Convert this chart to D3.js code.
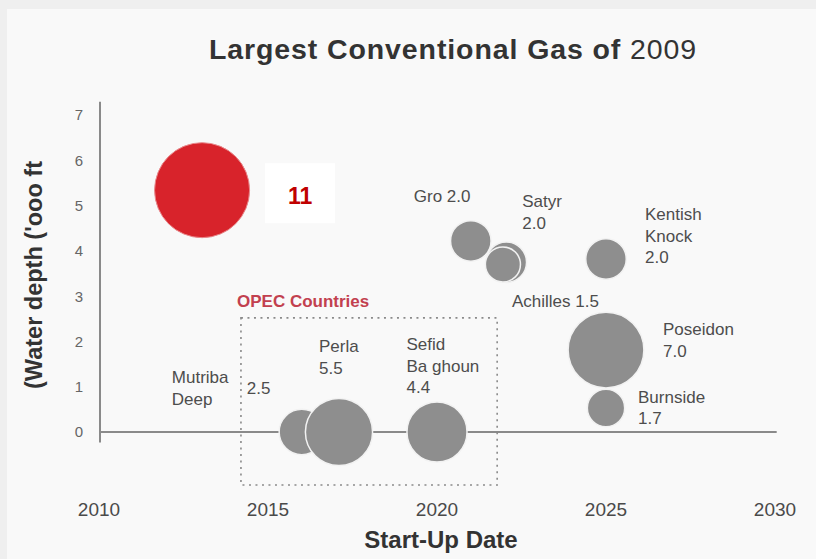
<!DOCTYPE html>
<html>
<head>
<meta charset="utf-8">
<script src="https://cdn.jsdelivr.net/npm/d3@7"></script>
<style>
  html, body { margin: 0; padding: 0; background: #efefef; }
  svg { display: block; font-family: "Liberation Sans", Arial, sans-serif; }
</style>
</head>
<body>
<div id="chart"></div>
<script>
// Gas fields: start-up year, water depth ('000 ft) and reserves (bubble size)
var fieldNames = ["Largest", "Mutriba Deep", "Perla", "Sefid Ba ghoun", "Gro", "Satyr", "Achilles", "Kentish Knock", "Poseidon", "Burnside"];
var startYears = [2013.05, 2016.0, 2017.1, 2020.0, 2021.0, 2022.05, 2021.95, 2025.0, 2025.0, 2025.0];
var waterDepth = [5.34, 0, 0, 0, 4.22, 3.75, 3.7, 3.82, 1.81, 0.53];
var reserves = [11, 2.5, 5.5, 4.4, 2.0, 2.0, 1.5, 2.0, 7.0, 1.7];
var labelLines = [
    ["11"],
    ["Mutriba", "Deep"],
    ["Perla", "5.5"],
    ["Sefid", "Ba ghoun", "4.4"],
    ["Gro 2.0"],
    ["Satyr", "2.0"],
    ["Achilles 1.5"],
    ["Kentish", "Knock", "2.0"],
    ["Poseidon", "7.0"],
    ["Burnside", "1.7"]
];
var xTicks = [2010, 2015, 2020, 2025, 2030];
var yTicks = [0, 1, 2, 3, 4, 5, 6, 7];
// OPEC dashed box corners in data units: [year from, year to, depth top, depth bottom]
var opecBox = [2014.2, 2021.78, 2.52, -1.17];

var W = 816, H = 559;

var svg = d3.select("#chart").append("svg")
    .attr('width', W)
    .attr('height', H);

// panel
svg.append("rect")
    .attr('x', 7).attr('y', 9)
    .attr('width', W - 7).attr('height', H - 9)
    .attr('fill', '#f9f9f9');

// scales
var x = d3.scaleLinear().domain([2010, 2030]).range([99, 775]);
var y = d3.scaleLinear().domain([0, 7]).range([432, 115]);
var r = d3.scaleSqrt().domain([0, 11]).range([0, 47.5]);

// title
var title = svg.append("text")
    .attr('x', 453).attr('y', 59)
    .attr('text-anchor', 'middle')
    .attr('fill', '#333')
    .style('font-size', '28.5px')
    .style('letter-spacing', '0.9px');
title.append("tspan").style('font-weight', 'bold').text("Largest Conventional Gas of ");
title.append("tspan").text("2009");

// axes lines
var axisColor = '#8a8a8a';
svg.append("line")
    .attr('x1', x(2010) + 1).attr('x2', x(2010) + 1)
    .attr('y1', y(7.29)).attr('y2', y(-0.23))
    .attr('stroke', axisColor).attr('stroke-width', 2);
svg.append("line")
    .attr('x1', x(2010) + 1).attr('x2', x(2030.05))
    .attr('y1', y(0)).attr('y2', y(0))
    .attr('stroke', axisColor).attr('stroke-width', 2);

// y tick labels
svg.append("g").selectAll("text")
    .data(yTicks)
    .enter().append("text")
    .attr('x', 79)
    .attr('y', function(d) { return y(d); })
    .attr('dy', '0.36em')
    .attr('text-anchor', 'middle')
    .attr('fill', '#666')
    .style('font-size', '15px')
    .text(function(d) { return d; });

// x tick labels sit at the bottom, well below the zero line
svg.append("g").selectAll("text")
    .data(xTicks)
    .enter().append("text")
    .attr('x', function(d) { return x(d); })
    .attr('y', 516)
    .attr('text-anchor', 'middle')
    .attr('fill', '#4a4a4a')
    .style('font-size', '19px')
    .text(function(d) { return d; });

// axis titles
svg.append("text")
    .attr('transform', 'translate(42,275) rotate(-90)')
    .attr('text-anchor', 'middle')
    .attr('fill', '#333')
    .style('font-size', '23.5px')
    .style('font-weight', 'bold')
    .text("(Water depth ('ooo ft");

svg.append("text")
    .attr('x', 441).attr('y', 548)
    .attr('text-anchor', 'middle')
    .attr('fill', '#333')
    .style('font-size', '24px')
    .style('font-weight', 'bold')
    .text("Start-Up Date");

// OPEC box
svg.append("rect")
    .attr('x', x(opecBox[0]))
    .attr('y', y(opecBox[2]))
    .attr('width', x(opecBox[1]) - x(opecBox[0]))
    .attr('height', y(opecBox[3]) - y(opecBox[2]))
    .attr('fill', 'none')
    .attr('stroke', '#8a8a8a')
    .attr('stroke-width', 1.6)
    .attr('stroke-dasharray', '2,4.5');

svg.append("text")
    .attr('x', 237).attr('y', 307)
    .attr('fill', '#c2404f')
    .style('font-size', '17px')
    .style('font-weight', 'bold')
    .text("OPEC Countries");

// build field rows
var fields = fieldNames.map(function(n, i) {
    return {name: n, year: startYears[i], depth: waterDepth[i], size: reserves[i], lines: labelLines[i]};
});

// bubbles
svg.append("g").selectAll("circle")
    .data(fields)
    .enter().append("circle")
    .attr('cx', function(d) { return x(d.year); })
    .attr('cy', function(d) { return y(d.depth); })
    .attr('r', function(d) { return r(d.size); })
    .attr('fill', function(d, i) { return i === 0 ? '#d8232b' : '#8e8e8e'; })
    .attr('stroke', function(d, i) { return i === 0 ? '#e8898c' : '#f2f2f2'; })
    .attr('stroke-width', function(d, i) { return i === 0 ? 1 : 1.5; });

// label offsets from each bubble centre (px)
var labelOffset = [
    {dx: 98, dy: 14, anchor: 'middle'},
    {dx: -130, dy: -49},
    {dx: -20, dy: -80},
    {dx: -30.5, dy: -82},
    {dx: -57, dy: -39},
    {dx: 16, dy: -55},
    {dx: 9, dy: 43},
    {dx: 39, dy: -39},
    {dx: 57, dy: -15},
    {dx: 32, dy: -5}
];

// white box behind the big number
var big = fields[0];
svg.append("rect")
    .attr('x', x(big.year) + 63)
    .attr('y', y(big.depth) - 27)
    .attr('width', 70).attr('height', 60)
    .attr('fill', '#ffffff');

var labels = svg.append("g");
fields.forEach(function(d, i) {
    var o = labelOffset[i];
    var t = labels.append("text")
        .attr('x', x(d.year) + o.dx)
        .attr('y', y(d.depth) + o.dy)
        .attr('text-anchor', o.anchor || 'start')
        .attr('fill', i === 0 ? '#c00000' : '#4d4d4d')
        .style('font-size', i === 0 ? '23px' : '17px')
        .style('font-weight', i === 0 ? 'bold' : 'normal');
    d.lines.forEach(function(line, k) {
        t.append("tspan")
            .attr('x', x(d.year) + o.dx)
            .attr('dy', k === 0 ? 0 : 21.5)
            .text(line);
    });
});

// Mutriba's value sits apart, inside the OPEC box edge
labels.append("text")
    .attr('x', x(fields[1].year) - 55)
    .attr('y', y(fields[1].depth) - 38)
    .attr('fill', '#4d4d4d')
    .style('font-size', '17px')
    .text(reserves[1].toFixed(1));
</script>
</body>
</html>
